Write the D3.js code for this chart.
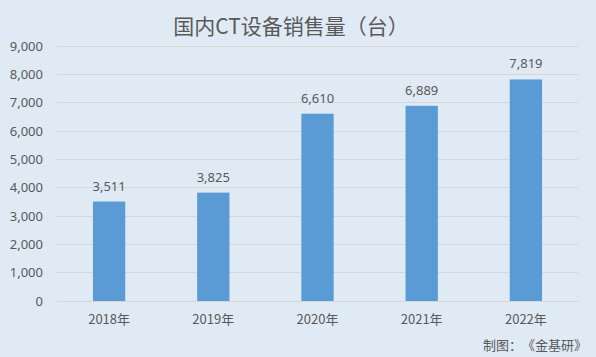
<!DOCTYPE html>
<html><head><meta charset="utf-8">
<script src="https://cdn.jsdelivr.net/npm/d3@7"></script>
<style>
html,body{margin:0;padding:0;background:#dfeaf5;}
svg{display:block;}
text{font-family:"Noto Sans CJK SC","Noto Sans",sans-serif;fill:#595959;text-spacing-trim:space-all;}
</style></head>
<body>
<script>
const categories = ["2018年","2019年","2020年","2021年","2022年"];
const values = [3511, 3825, 6610, 6889, 7819];
const yTicks = [0,1000,2000,3000,4000,5000,6000,7000,8000,9000];
const title = "国内CT设备销售量（台）";
const footer = "制图：《金基研》";

const W = 596, H = 357;
const svg = d3.select("body").append("svg").attr("width", W).attr("height", H);
svg.append("rect").attr("width", W).attr("height", H).attr("fill", "#dfeaf5");

const x = d3.scaleBand().domain(categories).range([57, 578]).paddingInner(0.69).paddingOuter(0.345);
const y = d3.scaleLinear().domain([0, 9000]).range([301, 46]);

// gridlines
svg.append("g").selectAll("line").data(yTicks).join("line")
  .attr("x1", 57).attr("x2", 578)
  .attr("y1", d => y(d)).attr("y2", d => y(d))
  .attr("stroke", "#d6d6d6").attr("stroke-width", 1).attr("shape-rendering","crispEdges");

// y axis labels
const fmt = d3.format(",");
const yAxis = d3.axisLeft(y).tickValues(yTicks).tickFormat(fmt).tickSize(0).tickPadding(0);
const gy = svg.append("g").attr("transform", "translate(43,0)").call(yAxis);
gy.select(".domain").remove();
gy.selectAll("text").attr("font-size", 13).attr("fill", "#595959")
  .style("font-family", '"Noto Sans","DejaVu Sans",sans-serif');

// x axis labels
const xAxis = d3.axisBottom(x).tickSize(0).tickPadding(0);
const gx = svg.append("g").attr("transform", "translate(0,315)").call(xAxis);
gx.select(".domain").remove();
gx.selectAll("text").attr("font-size", 13).attr("fill", "#595959")
  .style("font-family", '"Noto Sans CJK SC",sans-serif');

// bars
svg.append("g").selectAll("rect").data(values).join("rect")
  .attr("x", (d,i) => x(categories[i]))
  .attr("width", x.bandwidth())
  .attr("y", d => y(d))
  .attr("height", d => y(0) - y(d))
  .attr("fill", "#5b9bd5");

// value labels
svg.append("g").selectAll("text").data(values).join("text")
  .attr("x", (d,i) => x(categories[i]) + x.bandwidth()/2)
  .attr("y", d => y(d) - 11)
  .attr("text-anchor", "middle")
  .attr("font-size", 13)
  .style("font-family", '"Noto Sans","DejaVu Sans",sans-serif')
  .attr("fill", "#404040")
  .text(d => fmt(d));

// title
svg.append("text").attr("x", 291).attr("y", 34).attr("text-anchor", "middle")
  .attr("font-size", 21).attr("fill", "#595959").text(title);

// footer
svg.append("text").attr("x", 587).attr("y", 350).attr("text-anchor", "end")
  .attr("font-size", 13).attr("fill", "#595959").text(footer);
</script>
</body></html>
